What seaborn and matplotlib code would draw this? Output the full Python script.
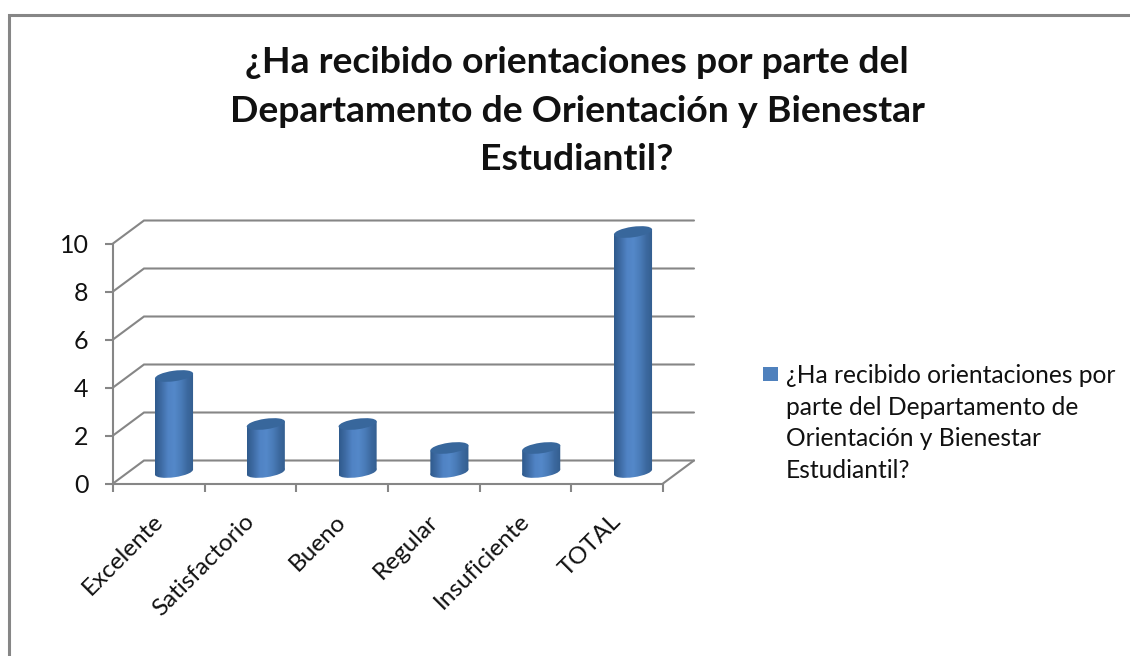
import numpy as np
import pandas as pd
import matplotlib
matplotlib.use("Agg")
import matplotlib.pyplot as plt
import seaborn as sns
from matplotlib.patches import Ellipse, Rectangle, Polygon
from matplotlib.lines import Line2D
from matplotlib.transforms import Affine2D
from matplotlib.colors import LinearSegmentedColormap

categories = ["Excelente", "Satisfactorio", "Bueno", "Regular", "Insuficiente", "TOTAL"]
values = [4, 2, 2, 1, 1, 10]
y_ticks = [0, 2, 4, 6, 8, 10]
title_lines = ["¿Ha recibido orientaciones por parte del",
               "Departamento de Orientación y Bienestar",
               "Estudiantil?"]
legend_lines = ["¿Ha recibido orientaciones por",
                "parte del Departamento de",
                "Orientación y Bienestar",
                "Estudiantil?"]

sns.set_theme(style="white")
plt.rcParams["font.family"] = ["Lato", "DejaVu Sans"]

W, H = 1130, 656
GRAY = "#868686"
TXT = "#111111"
LW = 1.5

fig = plt.figure(figsize=(W / 100, H / 100), dpi=100, facecolor="white")


def px_axes(x0, x1, ytop, ybot):
    return fig.add_axes([x0 / W, 1 - ybot / H, (x1 - x0) / W, (ybot - ytop) / H])


# Front plane: carries the axes, ticks and labels
ax = px_axes(113, 663, 243.5, 483.5)
ax.set_xlim(-0.5, 5.5)
ax.set_ylim(0, 10)
ax.patch.set_alpha(0)
for s in ["top", "right"]:
    ax.spines[s].set_visible(False)
for s in ["left", "bottom"]:
    ax.spines[s].set_color(GRAY)
    ax.spines[s].set_linewidth(LW)
ax.set_yticks(y_ticks)
ax.set_yticklabels([str(v) for v in y_ticks], fontsize=18, color=TXT)
ax.set_xticks(np.arange(-0.5, 6, 1))
ax.set_xticklabels([])
ax.tick_params(axis="both", length=5.5, width=LW, color=GRAY, direction="out",
               left=True, bottom=True, pad=12)

# Depth of the box, in data units
dx = 31 / (550 / 6)
dy = 23 / 24
for v in y_ticks:
    ax.add_line(Line2D([-0.5, -0.5 + dx, 5.5 + dx], [v, v + dy, v + dy], color=GRAY,
                       lw=LW, clip_on=False, solid_joinstyle="miter"))
ax.add_line(Line2D([5.5, 5.5 + dx], [0, dy], color=GRAY, lw=LW, clip_on=False))

# Category labels
for i, c in enumerate(categories):
    ax.annotate(c, xy=(i, 0), xycoords=("data", "axes fraction"),
                xytext=(-7, -27), textcoords="offset pixels",
                rotation=45, rotation_mode="anchor", ha="right", va="top",
                fontsize=17.5, color=TXT)

# Cylinders: mid plane of the box (y range extends below 0 so the rounded foot can show)
axb = px_axes(128.1, 678.9, 220, 496)
axb.patch.set_alpha(0)
df = pd.DataFrame({"cat": categories, "val": values})
sns.barplot(data=df, x="cat", y="val", color="#4f81bd", width=0.415, saturation=1,
            errorbar=None, ax=axb)
axb.set_xlim(-0.5, 5.5)
axb.set_ylim(-1, 10.5)
axb.axis("off")

cmap = LinearSegmentedColormap.from_list(
    "cyl", ["#2f5a8c", "#3f6ca5", "#5083c4", "#5488c9", "#4a7cb9", "#3c699f", "#335d8e"])
grad = np.linspace(0, 1, 128).reshape(1, -1)
fig.canvas.draw()
ANGLE = 8
per_unit = 240 / 10  # pixels per y unit
rise = np.tan(np.radians(ANGLE)) * 19 / per_unit
for bar in list(axb.patches):
    x0, w, h = bar.get_x(), bar.get_width(), bar.get_height()
    bar.set_visible(False)
    (p0x, p0y), (p1x, p1y) = axb.transData.transform([(x0, 0), (x0 + w, h)])
    cx, wpx = (p0x + p1x) / 2, (p1x - p0x) / np.cos(np.radians(ANGLE))
    bottom = Ellipse((0, 0), wpx, 10.5, angle=ANGLE, transform=Affine2D().translate(cx, p0y))
    axb.add_patch(bottom)
    bottom.set_visible(False)
    body = Polygon([(x0, -rise), (x0 + w, rise), (x0 + w, h + rise), (x0, h - rise)], closed=True,
                   transform=axb.transData)
    axb.add_patch(body)
    body.set_visible(False)
    for clip in (bottom, body):
        im = axb.imshow(grad, cmap=cmap, aspect="auto", extent=(x0, x0 + w, -0.5, h + 0.5),
                        zorder=3, interpolation="bilinear")
        im.set_clip_path(clip)
    top = Ellipse((0, 0), wpx, 10.5, angle=ANGLE, facecolor="#38679c", edgecolor="none", zorder=4,
                  transform=Affine2D().translate(cx, p1y))
    top.set_clip_on(False)
    axb.add_patch(top)
axb.set_xlim(-0.5, 5.5)
axb.set_ylim(-1, 10.5)

# Title
fig.text(577 / W, 1 - 111 / H, "\n".join(title_lines), ha="center", va="center", fontsize=26.9,
         fontweight="bold", color=TXT, linespacing=1.59)

# Legend
fig.add_artist(Rectangle((763 / W, 1 - 381 / H), 15 / W, 14 / H, transform=fig.transFigure,
                         facecolor="#4f81bd", edgecolor="none"))
fig.text(786 / W, 1 - 423 / H, "\n".join(legend_lines), ha="left", va="center", fontsize=17.7,
         color=TXT, linespacing=1.46)

# Outer frame (top and left edges are what shows)
fig.add_artist(Line2D([9 / W, 9 / W, 1], [0, 1 - 14.5 / H, 1 - 14.5 / H], color=GRAY, lw=2.2,
                      transform=fig.transFigure, solid_joinstyle="miter"))

fig.savefig("out.png", dpi=100, facecolor="white")
